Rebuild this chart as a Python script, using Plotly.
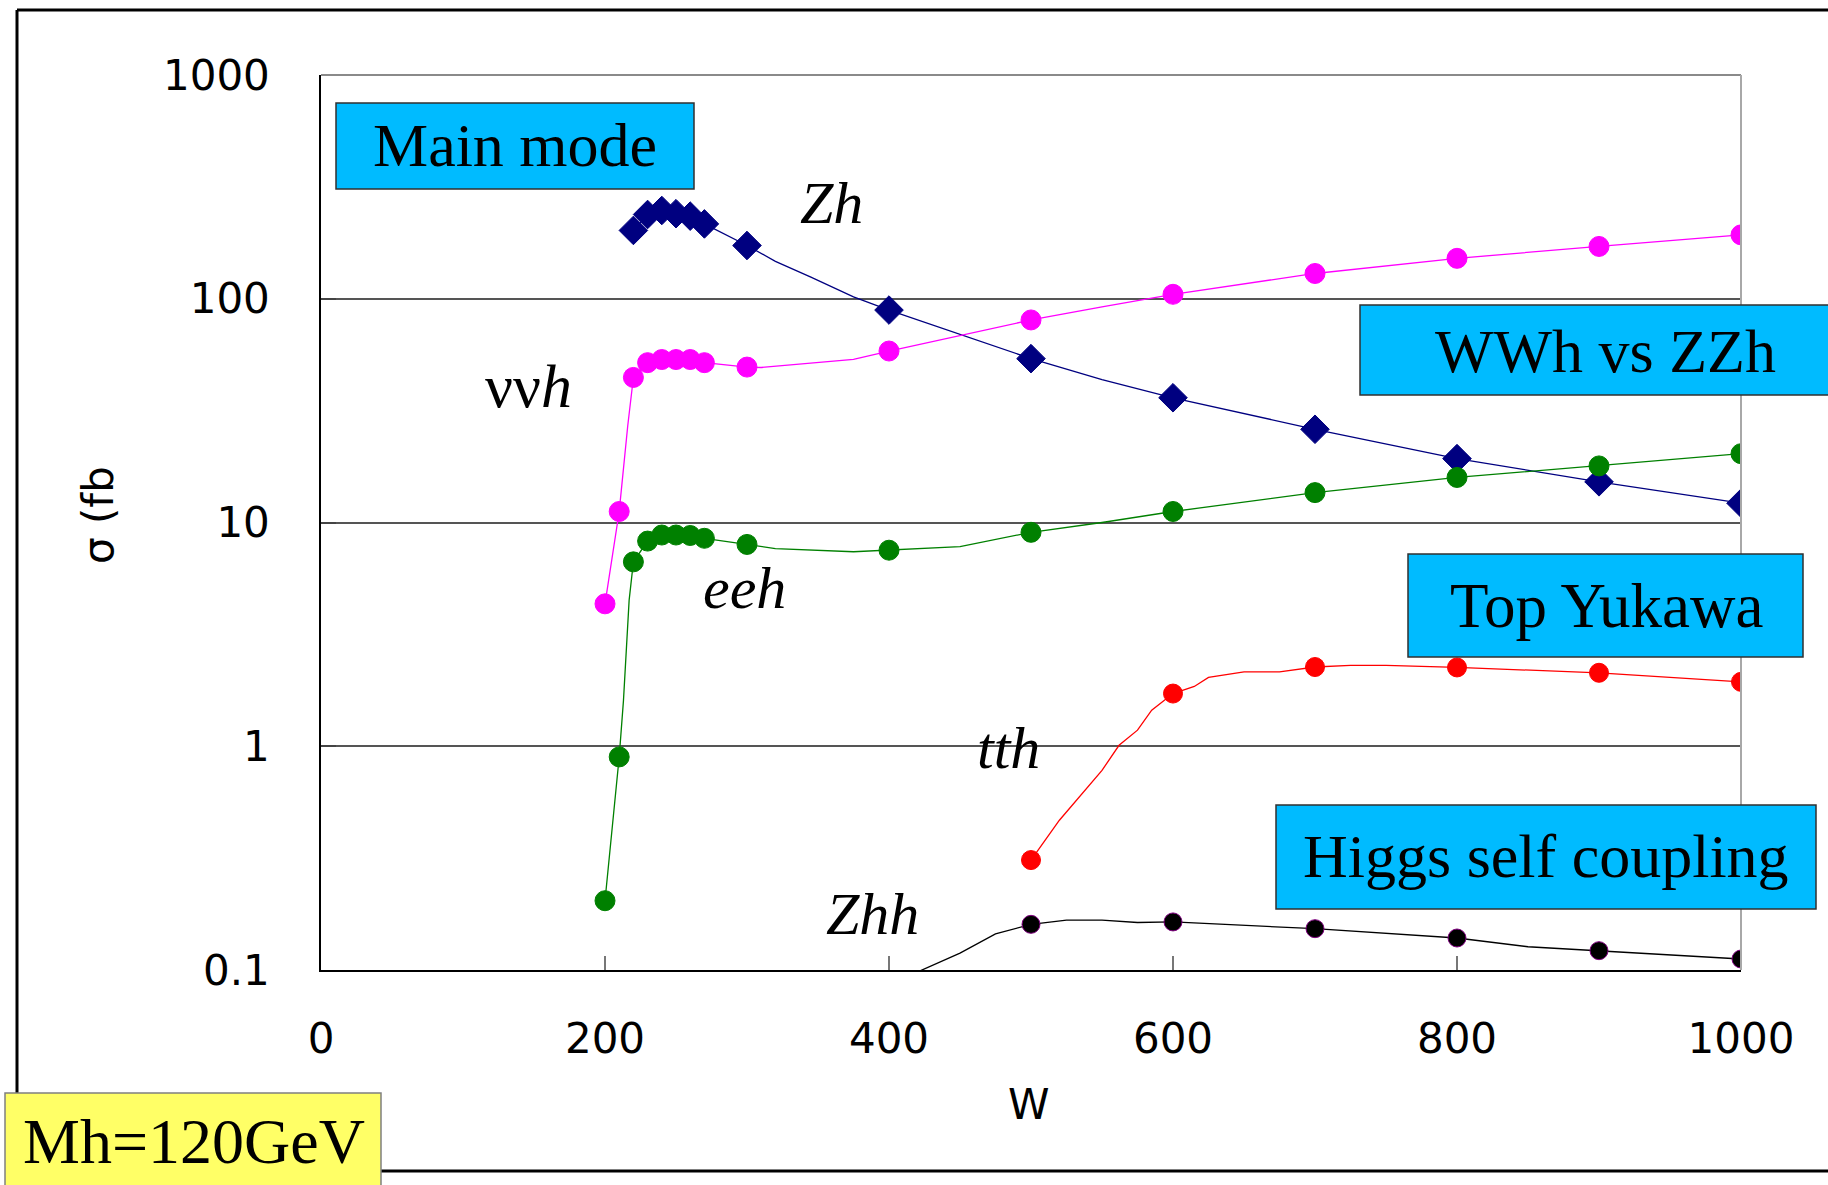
import plotly.graph_objects as go

# ---------------- data ----------------
# Zh  (markers)
zh_x = [220, 230, 240, 250, 260, 270, 300, 400, 500, 600, 700, 800, 900, 1000]
zh_y = [202, 238, 248, 240, 234, 216, 173, 89, 54, 36.1, 26.1, 19.3, 15.2, 12.2]
# Zh  (curve)
zh_line_x = [220, 230, 240, 250, 260, 270, 300, 320, 345, 375, 400, 500, 550, 600, 700, 800, 900, 1000]
zh_line_y = [202, 238, 248, 240, 234, 216, 173, 147, 125, 102, 89, 54, 43.5, 36.1, 26.1, 19.3, 15.2, 12.2]

# nu nu h
nnh_x = [200, 210, 220, 230, 240, 250, 260, 270, 300, 400, 500, 600, 700, 800, 900, 1000]
nnh_y = [4.33, 11.2, 44.5, 51.8, 53.5, 53.5, 53.5, 51.8, 49.5, 58.4, 80.4, 104.7, 129.7, 151.6, 171.3, 193]
nnh_line_x = [200, 210, 216, 220, 230, 240, 250, 260, 270, 300, 310, 375, 400, 500, 550, 600, 700, 800, 900, 1000]
nnh_line_y = [4.33, 11.2, 27, 44.5, 51.8, 53.5, 53.5, 53.5, 51.8, 49.5, 49.3, 53.6, 58.4, 80.4, 92, 104.7, 129.7, 151.6, 171.3, 193]

# e e h
eeh_x = [200, 210, 220, 230, 240, 250, 260, 270, 300, 400, 500, 600, 700, 800, 900, 1000]
eeh_y = [0.204, 0.896, 6.67, 8.26, 8.79, 8.79, 8.75, 8.50, 7.98, 7.52, 9.04, 11.2, 13.6, 15.9, 17.9, 20.3]
eeh_line_x = [200, 210, 213, 217, 220, 230, 240, 250, 260, 270, 300, 320, 375, 400, 450, 500, 550, 600, 700, 800, 900, 1000]
eeh_line_y = [0.204, 0.896, 1.6, 4.5, 6.67, 8.26, 8.79, 8.79, 8.75, 8.50, 7.98, 7.65, 7.40, 7.52, 7.8, 9.04, 10.0, 11.2, 13.6, 15.9, 17.9, 20.3]

# t t h
tth_x = [500, 600, 700, 800, 900, 1000]
tth_y = [0.31, 1.72, 2.26, 2.25, 2.13, 1.94]
tth_line_x = [500, 520, 550, 562, 575, 585, 600, 615, 625, 650, 675, 700, 725, 750, 800, 900, 1000]
tth_line_y = [0.31, 0.467, 0.78, 1.01, 1.18, 1.45, 1.72, 1.85, 2.03, 2.15, 2.15, 2.26, 2.30, 2.30, 2.25, 2.13, 1.94]

# Z h h
zhh_x = [500, 600, 700, 800, 900, 1000]
zhh_y = [0.160, 0.164, 0.153, 0.139, 0.122, 0.112]
zhh_line_x = [400, 450, 475, 500, 525, 550, 575, 600, 700, 800, 850, 900, 1000]
zhh_line_y = [0.086, 0.119, 0.145, 0.160, 0.167, 0.167, 0.163, 0.164, 0.153, 0.139, 0.127, 0.122, 0.112]

x_ticks = [0, 200, 400, 600, 800, 1000]
x_tick_text = ["0", "200", "400", "600", "800", "1000"]
y_ticks = [0.1, 1, 10, 100, 1000]
y_tick_text = ["0.1", "1", "10", "100", "1000"]

# ---------------- layout helpers ----------------
W_FIG, H_FIG = 1828, 1185
ML, MR, MT, MB = 321, 87, 75, 215
PW = W_FIG - ML - MR
PH = H_FIG - MT - MB


def fx(px):
    return (px - ML) / PW


def fy(py):
    return (MT + PH - py) / PH


NAVY = "#000080"
MAGENTA = "#FF00FF"
GREEN = "#008000"
RED = "#FF0000"
BLACK = "#000000"
CYAN = "#00BBFF"

fig = go.Figure()

curves = [
    (zh_line_x, zh_line_y, NAVY),
    (nnh_line_x, nnh_line_y, MAGENTA),
    (eeh_line_x, eeh_line_y, GREEN),
    (tth_line_x, tth_line_y, RED),
    (zhh_line_x, zhh_line_y, BLACK),
]
for cx, cy, col in curves:
    fig.add_trace(go.Scatter(x=cx, y=cy, mode="lines",
                             line=dict(color=col, width=1.3),
                             hoverinfo="skip", showlegend=False))

markers = [
    (zh_x, zh_y, NAVY, "diamond", 22, NAVY),
    (nnh_x, nnh_y, MAGENTA, "circle", 20, MAGENTA),
    (eeh_x, eeh_y, GREEN, "circle", 20, GREEN),
    (tth_x, tth_y, RED, "circle", 19, RED),
    (zhh_x, zhh_y, BLACK, "circle", 18, "#800080"),
]
for mx, my, col, sym, size, edge in markers:
    fig.add_trace(go.Scatter(x=mx, y=my, mode="markers",
                             marker=dict(color=col, symbol=sym, size=size,
                                         line=dict(color=edge, width=1)),
                             showlegend=False))

shapes = []
# outer frame (black, open on the right)
for (x0, y0, x1, y1) in [(17, 10, 1850, 10), (17, 10, 17, 1171), (17, 1171, 1850, 1171)]:
    shapes.append(dict(type="line", xref="paper", yref="paper",
                       x0=fx(x0), y0=fy(y0), x1=fx(x1), y1=fy(y1),
                       line=dict(color="black", width=3), layer="above"))
# top / right plot border (gray)
shapes.append(dict(type="line", xref="paper", yref="paper", x0=0, y0=1, x1=1, y1=1,
                   line=dict(color="#8a8a8a", width=2), layer="above"))
shapes.append(dict(type="line", xref="paper", yref="paper", x0=1, y0=0, x1=1, y1=1,
                   line=dict(color="#a8a8a8", width=2), layer="above"))

# cyan boxes
boxes = [
    (336, 103, 694, 189),
    (1360, 305, 1850, 395),
    (1408, 554, 1803, 657),
    (1276, 805, 1816, 909),
]
for (x0, y0, x1, y1) in boxes:
    shapes.append(dict(type="rect", xref="paper", yref="paper",
                       x0=fx(x0), y0=fy(y0), x1=fx(x1), y1=fy(y1),
                       fillcolor=CYAN, line=dict(color="#303030", width=1.5), layer="above"))
# yellow box
shapes.append(dict(type="rect", xref="paper", yref="paper",
                   x0=fx(5), y0=fy(1093), x1=fx(381), y1=fy(1200),
                   fillcolor="#FFFF66", line=dict(color="#808080", width=1.5), layer="above"))

SERIF = "Liberation Serif, Times New Roman, serif"
SANS = "DejaVu Sans, sans-serif"
annotations = []


def add_text(text, x, y, size, family=SERIF, angle=0):
    annotations.append(dict(text=text, xref="paper", yref="paper",
                            x=fx(x), y=fy(y), xanchor="center", yanchor="middle",
                            showarrow=False, textangle=angle,
                            font=dict(family=family, size=size, color="black")))


add_text("Main mode", 515, 145, 62)
add_text("WWh vs ZZh", 1605, 351, 62)
add_text("Top Yukawa", 1606, 606, 63)
add_text("Higgs self coupling", 1546, 856, 62)
add_text("Mh=120GeV", 194, 1141, 64)
add_text("<i>Zh</i>", 831, 203, 60)
add_text("νν<i>h</i>", 528, 386, 62)
add_text("<i>eeh</i>", 744, 588, 60)
add_text("<i>tth</i>", 1008, 748, 60)
add_text("<i>Zhh</i>", 872, 914, 60)
add_text("W", 1029, 1104, 42, family=SANS)
add_text("σ (fb", 98, 515, 42, family=SANS, angle=-90)

fig.update_layout(
    width=W_FIG, height=H_FIG, autosize=False,
    margin=dict(l=ML, r=MR, t=MT, b=MB, pad=0),
    paper_bgcolor="white", plot_bgcolor="white",
    showlegend=False, shapes=shapes, annotations=annotations,
)
fig.update_xaxes(
    range=[0, 1000], tickvals=x_ticks, ticktext=x_tick_text,
    ticks="inside", ticklen=14, tickcolor="#777777", tickwidth=1.5,
    showgrid=False, zeroline=False, showline=True, linecolor="black", linewidth=1.5,
    tickfont=dict(family=SANS, size=42, color="black"),
    ticklabelstandoff=31,
)
fig.update_yaxes(
    type="log", range=[-1, 3], tickvals=y_ticks, ticktext=y_tick_text,
    ticks="inside", ticklen=15, tickcolor="#444444", tickwidth=1.5,
    showgrid=True, gridcolor="#555555", gridwidth=1.5,
    zeroline=False, showline=True, linecolor="black", linewidth=1.5,
    tickfont=dict(family=SANS, size=42, color="black"),
    ticklabelstandoff=41,
)

fig.write_html("out.html")
